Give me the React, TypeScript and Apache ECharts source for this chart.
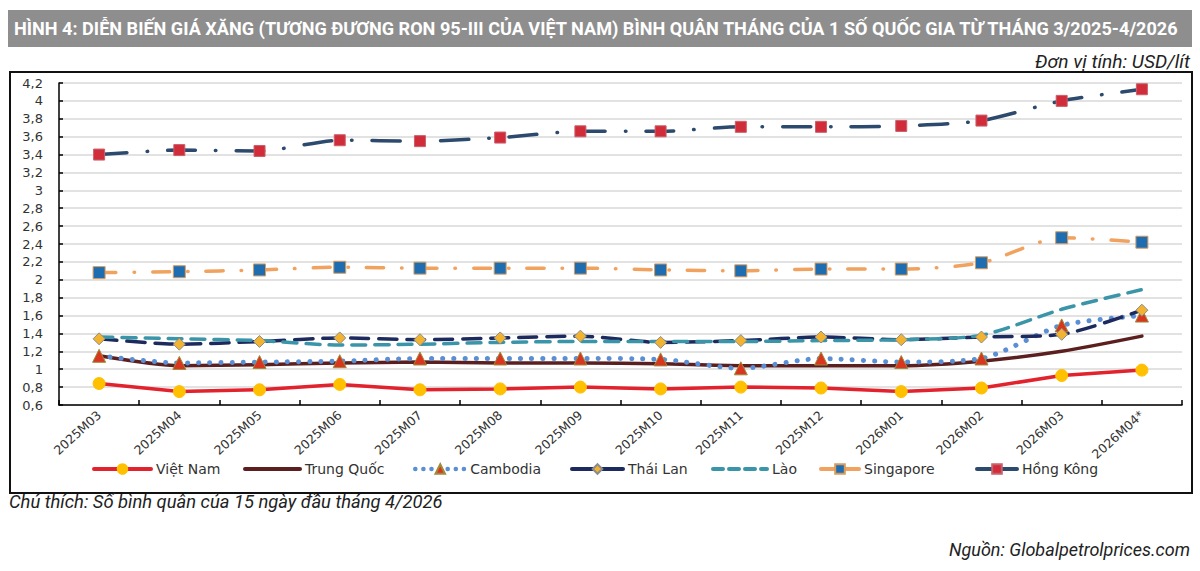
import React, { useEffect, useRef } from "react";
import * as echarts from "echarts";

const months = [
  "2025M03", "2025M04", "2025M05", "2025M06", "2025M07", "2025M08", "2025M09",
  "2025M10", "2025M11", "2025M12", "2026M01", "2026M02", "2026M03", "2026M04*",
];

const vietNam = [0.84, 0.75, 0.77, 0.83, 0.77, 0.78, 0.8, 0.78, 0.8, 0.79, 0.75, 0.79, 0.93, 0.99];
const trungQuoc = [1.15, 1.04, 1.05, 1.07, 1.08, 1.07, 1.07, 1.06, 1.04, 1.04, 1.04, 1.09, 1.2, 1.37];
const cambodia = [1.15, 1.07, 1.08, 1.09, 1.12, 1.12, 1.12, 1.11, 1.01, 1.12, 1.08, 1.12, 1.49, 1.6];
const thaiLan = [1.34, 1.28, 1.31, 1.35, 1.33, 1.35, 1.37, 1.3, 1.32, 1.36, 1.33, 1.36, 1.39, 1.66];
const lao = [1.36, 1.34, 1.32, 1.27, 1.28, 1.3, 1.31, 1.31, 1.31, 1.32, 1.33, 1.38, 1.67, 1.89];
const singapore = [2.08, 2.09, 2.11, 2.14, 2.13, 2.13, 2.13, 2.11, 2.1, 2.12, 2.12, 2.19, 2.47, 2.42];
const hongKong = [3.4, 3.45, 3.44, 3.56, 3.55, 3.59, 3.66, 3.66, 3.71, 3.71, 3.72, 3.78, 4.0, 4.13];

const TITLE =
  "HÌNH 4: DIỄN BIẾN GIÁ XĂNG (TƯƠNG ĐƯƠNG RON 95-III CỦA VIỆT NAM) BÌNH QUÂN THÁNG CỦA 1 SỐ QUỐC GIA TỪ THÁNG 3/2025-4/2026";
const UNIT = "Đơn vị tính: USD/lít";
const NOTE = "Chú thích: Số bình quân của 15 ngày đầu tháng 4/2026";
const SOURCE = "Nguồn: Globalpetrolprices.com";

// horizontal squeeze so a text fills a given width (the original uses a condensed face)
const fitScale = (text: string, font: string, width: number) => {
  const ctx = document.createElement("canvas").getContext("2d");
  if (!ctx) return 1;
  ctx.font = font;
  return width / ctx.measureText(text).width;
};

const line = (
  name: string,
  data: number[],
  color: string,
  width: number,
  type: any,
  symbol: string,
  symbolSize: number,
  fill: string,
  border: string,
  smooth: number | boolean
) => ({
  name,
  type: "line",
  data,
  smooth,
  symbol: symbol === "none" ? "circle" : symbol,
  symbolSize,
  showSymbol: symbol !== "none",
  lineStyle: { color, width, type, cap: "round" },
  itemStyle: { color: fill, borderColor: border, borderWidth: 1 },
  emphasis: { disabled: true },
});

const App = () => {
  const chartRef = useRef<HTMLDivElement>(null);

  useEffect(() => {
    // @ts-ignore
    const chart = echarts.init(chartRef.current, null, { renderer: "svg" });

    const titleFont = "bold 19px Roboto";
    const italicFont = "italic 18px Roboto";

    const series = [
      line("Việt Nam", vietNam, "#e2222c", 3.5, "solid", "circle", 12, "#ffc000", "#ffc000", false),
      line("Trung Quốc", trungQuoc, "#5b1f1f", 3.5, "solid", "none", 0, "#5b1f1f", "#5b1f1f", 0.25),
      line("Cambodia", cambodia, "#5b8fd3", 5, [0.1, 11], "triangle", 13, "#d8361f", "#a08a3c", 0.25),
      line("Thái Lan", thaiLan, "#1d2a5e", 3.5, [18, 10], "diamond", 12, "#f2b330", "#8c8c8c", 0.25),
      line("Lào", lao, "#3a95a8", 3.5, [14, 9], "none", 0, "#3a95a8", "#3a95a8", 0.25),
      line("Singapore", singapore, "#f0a25e", 3.5, [17, 18, 0.5, 18], "rect", 12, "#1f6db1", "#d69c5e", 0.25),
      line("Hồng Kông", hongKong, "#2b4a6e", 3.5, [28, 20, 0.5, 20], "rect", 11, "#d12c3a", "#c9606a", 0.25),
    ];

    const legendLeft = [92, 243, 413, 570, 711, 819, 975];
    const legendWidth = [57, 55, 50, 51, 54, 38, 40];
    const legendDash: any[] = ["solid", "solid", [0.1, 8], "solid", [10, 6], "solid", "solid"];
    const noMarker = ["Trung Quốc", "Lào"];

    const options = {
      animation: false,
      grid: { left: 59, right: 18, top: 83, bottom: 166, containLabel: false },
      xAxis: {
        type: "category",
        data: months,
        boundaryGap: true,
        axisLine: { lineStyle: { color: "#000", width: 1.5 } },
        axisTick: { show: true, inside: true, length: 5, lineStyle: { color: "#000", width: 1.5 } },
        axisLabel: {
          interval: 0,
          rotate: 42,
          margin: 8,
          fontFamily: "DejaVu Sans",
          fontSize: 12.5,
          color: "#333",
        },
      },
      yAxis: {
        type: "value",
        min: 0.6,
        max: 4.2,
        interval: 0.2,
        axisLine: { show: true, lineStyle: { color: "#000", width: 1.5 } },
        axisTick: { show: true, inside: true, length: 4, lineStyle: { color: "#000", width: 1.5 } },
        splitLine: { lineStyle: { color: "#d9d9d9", width: 1.5 } },
        axisLabel: {
          margin: 16,
          fontFamily: "DejaVu Sans",
          fontSize: 13,
          color: "#333",
          formatter: (v: number) => String(Number(v.toFixed(1))).replace(".", ","),
        },
      },
      legend: series.map((s, i) => ({
        data: [s.name],
        left: legendLeft[i],
        top: 462,
        padding: 0,
        itemWidth: legendWidth[i],
        itemHeight: 12,
        itemStyle: noMarker.includes(s.name) ? { opacity: 0 } : {},
        lineStyle: { width: i === 2 ? 4.5 : 4, type: legendDash[i], cap: "round" },
        textStyle: { fontFamily: "DejaVu Sans", fontSize: 14, color: "#333" },
        selectedMode: false,
      })),
      graphic: [
        {
          type: "rect",
          shape: { x: 8, y: 10, width: 1184, height: 37 },
          style: { fill: "#8e8e8e" },
          z: 0,
        },
        {
          type: "text",
          x: 14,
          y: 29,
          scaleX: fitScale(TITLE, titleFont, 1166),
          style: {
            text: TITLE,
            fill: "#fff",
            fontFamily: "Roboto",
            fontWeight: "bold",
            fontSize: 19,
            verticalAlign: "middle",
            align: "left",
          },
        },
        {
          type: "text",
          x: 1190,
          y: 62,
          scaleX: fitScale(UNIT, italicFont, 155),
          style: {
            text: UNIT,
            fill: "#222",
            fontFamily: "Roboto",
            fontStyle: "italic",
            fontSize: 18,
            verticalAlign: "middle",
            align: "right",
          },
        },
        {
          type: "rect",
          shape: { x: 10, y: 72, width: 1182, height: 421 },
          style: { fill: "none", stroke: "#111", lineWidth: 2 },
        },
        {
          type: "text",
          x: 9,
          y: 502,
          scaleX: fitScale(NOTE, italicFont, 434),
          style: {
            text: NOTE,
            fill: "#222",
            fontFamily: "Roboto",
            fontStyle: "italic",
            fontSize: 18,
            verticalAlign: "middle",
            align: "left",
          },
        },
        {
          type: "text",
          x: 1190,
          y: 549,
          scaleX: fitScale(SOURCE, italicFont, 241),
          style: {
            text: SOURCE,
            fill: "#222",
            fontFamily: "Roboto",
            fontStyle: "italic",
            fontSize: 18,
            verticalAlign: "middle",
            align: "right",
          },
        },
      ],
      series,
    };

    chart.setOption(options);

    return () => {
      chart.dispose();
    };
  }, []);

  return (
    <div
      ref={chartRef}
      style={{ position: "absolute", left: 0, top: 0, width: "1200px", height: "571px", background: "#fff" }}
    />
  );
};

export default App;
